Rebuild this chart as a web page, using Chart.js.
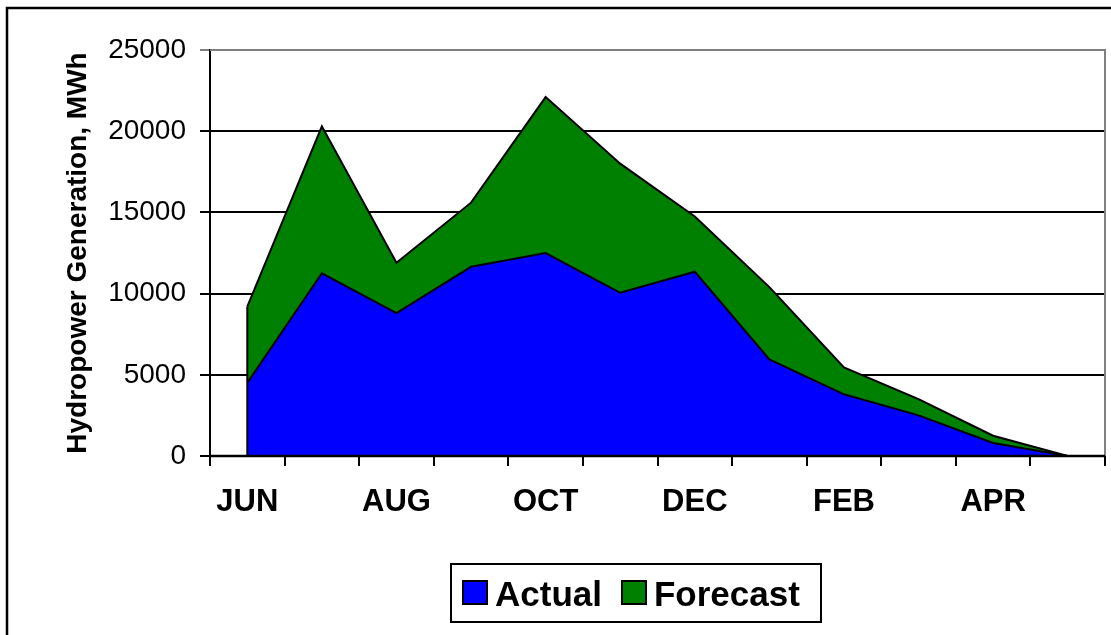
<!DOCTYPE html>
<html>
<head>
<meta charset="utf-8">
<script src="https://cdn.jsdelivr.net/npm/chart.js@4"></script>
<style>
  html, body { margin: 0; padding: 0; background: #fff; }
  #wrap { width: 1111px; height: 635px; }
</style>
</head>
<body>
<div id="wrap"><canvas id="hydroChart" width="1111" height="635"></canvas></div>
<script>
const months = ["JUN", "JUL", "AUG", "SEP", "OCT", "NOV", "DEC", "JAN", "FEB", "MAR", "APR", "MAY"];
const actual = [4500, 11250, 8800, 11650, 12500, 10050, 11350, 5950, 3800, 2500, 800, 0];
const forecast = [4700, 9050, 3100, 3950, 9600, 7950, 3400, 4450, 1650, 1000, 450, 0];
const yTicks = [0, 5000, 10000, 15000, 20000, 25000];

const FONT = "'Liberation Sans', Arial, sans-serif";

// frame, plot border, left edge of the areas, legend box
const decorations = {
  id: "decorations",
  beforeDraw(chart) {
    const ctx = chart.ctx;
    ctx.save();
    ctx.fillStyle = "#fff";
    ctx.fillRect(0, 0, chart.width, chart.height);
    ctx.strokeStyle = "#000";
    ctx.lineWidth = 2.5;
    ctx.beginPath();
    ctx.moveTo(7, chart.height + 2);
    ctx.lineTo(7, 8);
    ctx.lineTo(chart.width + 2, 8);
    ctx.stroke();
    ctx.restore();
  },
  afterDatasetsDraw(chart) {
    const ctx = chart.ctx;
    const area = chart.chartArea;
    const x = chart.scales.x;
    const y = chart.scales.y;
    ctx.save();
    // plot area border (top + right) in gray
    ctx.strokeStyle = "#808080";
    ctx.lineWidth = 2;
    ctx.beginPath();
    ctx.moveTo(area.left, area.top);
    ctx.lineTo(area.right, area.top);
    ctx.lineTo(area.right, area.bottom);
    ctx.stroke();
    // vertical edge at first category
    const topPt = chart.getDatasetMeta(1).data[0];
    ctx.strokeStyle = "#000";
    ctx.lineWidth = 2;
    ctx.beginPath();
    ctx.moveTo(x.getPixelForValue(0), y.getPixelForValue(0));
    ctx.lineTo(topPt.x, topPt.y);
    ctx.stroke();
    // baseline
    ctx.lineWidth = 2.5;
    ctx.beginPath();
    ctx.moveTo(area.left, area.bottom);
    ctx.lineTo(area.right, area.bottom);
    ctx.stroke();

    // legend
    const boxL = 451, boxT = 564, boxW = 370, boxH = 58;
    ctx.lineWidth = 2;
    ctx.strokeStyle = "#000";
    ctx.strokeRect(boxL, boxT, boxW, boxH);
    ctx.font = "bold 35px " + FONT;
    ctx.textBaseline = "alphabetic";
    ctx.textAlign = "left";
    let cx = 463;
    chart.data.datasets.forEach((ds) => {
      ctx.fillStyle = ds.backgroundColor;
      ctx.fillRect(cx, 581, 24, 23);
      ctx.strokeStyle = "#000";
      ctx.lineWidth = 2;
      ctx.strokeRect(cx, 581, 24, 23);
      ctx.fillStyle = "#000";
      ctx.fillText(ds.label, cx + 32, 606);
      cx += 32 + ctx.measureText(ds.label).width + 20;
    });
    ctx.restore();
  },
};

new Chart(document.getElementById("hydroChart"), {
  type: "line",
  data: {
    labels: months,
    datasets: [
      {
        label: "Actual",
        data: actual,
        backgroundColor: "#0000ff",
        borderColor: "#000",
        borderWidth: 2,
        pointRadius: 0,
        fill: "origin",
        tension: 0,
      },
      {
        label: "Forecast",
        data: forecast,
        backgroundColor: "#008000",
        borderColor: "#000",
        borderWidth: 2,
        pointRadius: 0,
        fill: "-1",
        tension: 0,
      },
    ],
  },
  options: {
    responsive: false,
    animation: false,
    layout: { padding: { top: 50, left: 0, right: 6, bottom: 119 } },
    plugins: {
      legend: { display: false },
      tooltip: { enabled: false },
    },
    scales: {
      x: {
        offset: true,
        grid: { offset: true, drawOnChartArea: false, color: "#000", lineWidth: 2, tickLength: 10 },
        border: { display: true, color: "#000", width: 2 },
        ticks: {
          autoSkip: false,
          maxRotation: 0,
          color: "#000",
          padding: 18,
          font: { family: FONT, size: 31, weight: "bold" },
          callback: (value, index) => (index % 2 === 0 ? months[index] : ""),
        },
        afterFit: (scale) => { scale.height = 60; },
      },
      y: {
        stacked: true,
        min: 0,
        max: 25000,
        afterBuildTicks: (scale) => { scale.ticks = yTicks.map((v) => ({ value: v })); },
        grid: {
          color: (c) => (c.tick && c.tick.value === 25000 ? "#808080" : "#000"),
          lineWidth: 2,
          tickLength: 10,
        },
        border: { display: true, color: "#000", width: 2 },
        ticks: {
          color: "#000",
          padding: 14,
          font: { family: FONT, size: 28 },
          callback: (value) => String(value),
        },
        title: {
          display: true,
          text: "Hydropower Generation, MWh",
          color: "#000",
          font: { family: FONT, size: 28, weight: "bold" },
          padding: { top: 61, bottom: 0 },
        },
        afterFit: (scale) => { scale.width = 210; },
      },
    },
  },
  plugins: [decorations],
});
</script>
</body>
</html>
